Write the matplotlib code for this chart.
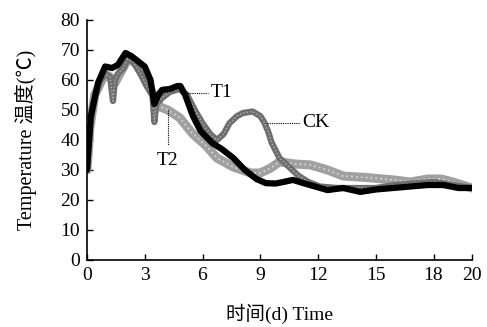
import matplotlib
matplotlib.use("Agg")
import matplotlib.pyplot as plt
import numpy as np

# Data
ck_day = [0, 0.15, 0.4, 0.7, 0.95, 1.2, 1.35, 1.45, 1.6, 1.9, 2.1, 2.4, 2.8, 3.1, 3.4, 3.5, 3.6, 3.9, 4.3, 4.8, 5.2, 5.6, 6.0, 6.4, 6.75, 7.1, 7.4, 7.8, 8.1, 8.6, 9.0, 9.2, 9.4, 9.6, 10.0, 10.5, 11.0, 11.5, 12.1, 13, 14, 15, 16, 17, 18, 19, 20]
ck_temp = [30, 45, 54, 60, 62, 61, 53, 60, 62, 64, 67, 66, 62, 58, 55, 46, 52, 54, 56, 57, 55, 50, 45.6, 42, 40, 42, 45.6, 48, 49, 49.5, 48, 46, 43, 39, 34, 31, 28, 26, 24.5, 24, 24, 24, 25, 25.5, 26, 25, 24]

t1_day = [0, 0.2, 0.57, 0.94, 1.3, 1.6, 2.0, 2.3, 2.5, 3.0, 3.3, 3.5, 3.7, 3.9, 4.3, 4.7, 4.85, 5.1, 5.5, 5.9, 6.5, 7.0, 7.6, 8.2, 8.8, 9.3, 9.8, 10.2, 10.7, 11.3, 12.5, 13.3, 14.2, 15.0, 15.9, 16.8, 17.7, 18.5, 19.3, 20]
t1_temp = [30, 48, 59, 64.5, 64, 65, 69, 68, 67, 64.5, 60, 52, 55, 56.7, 57, 58, 58, 55, 48, 43, 39, 37, 34, 30, 27, 25.6, 25.5, 26, 26.7, 25.5, 23.3, 24, 22.7, 23.5, 24, 24.5, 25, 25, 24, 24]

t2_day = [0, 0.15, 0.4, 0.7, 0.94, 1.2, 1.45, 1.7, 2.1, 2.5, 2.85, 3.1, 3.4, 3.8, 4.2, 4.8, 5.5, 6.2, 6.75, 7.6, 8.5, 9.0, 9.5, 10.0, 10.8, 11.6, 12.5, 13.3, 14.5, 15.9, 16.8, 17.7, 18.4, 19.0, 19.5, 20]
t2_temp = [30, 44, 55, 59, 62, 61, 59, 62, 66.7, 66, 62, 59, 55.6, 51, 50, 47.5, 42, 38, 34, 31, 29, 29, 30.5, 32.7, 32, 31.7, 30, 28, 27.5, 26.7, 26, 27, 27, 26, 25, 24]

xticks = [0, 3, 6, 9, 12, 15, 18, 20]
yticks = [0, 10, 20, 30, 40, 50, 60, 70, 80]

fonts = ['Liberation Serif', 'Noto Sans CJK SC', 'DejaVu Sans']
plt.rcParams['font.family'] = fonts

fig = plt.figure(figsize=(4.87, 3.27), dpi=100)
ax = fig.add_axes([87/487, 67/327, 385/487, 240/327])

ax.plot(t2_day, t2_temp, color='#a0a0a0', lw=6.5, solid_capstyle='round', solid_joinstyle='round', zorder=2)
ax.plot(t2_day, t2_temp, color='#d0d0d0', lw=1.4, ls=(0, (1, 1.5)), zorder=2.1)
ax.plot(ck_day, ck_temp, color='#6e6e6e', lw=4.5, solid_capstyle='round', solid_joinstyle='round', zorder=3)
ax.plot(ck_day, ck_temp, color='#b0b0b0', lw=1.0, ls=(0, (1, 1.5)), zorder=3.1)
ax.plot(t1_day, t1_temp, color='black', lw=4.5, solid_capstyle='round', solid_joinstyle='round', zorder=4)

# annotations with dotted leaders
ax.plot([5.0, 6.3], [55.7, 55.7], color='black', lw=0.8, ls=(0, (1, 1)), zorder=5)
ax.text(6.4, 55.7, 'T1', fontsize=14, va='center', ha='left')
ax.plot([9.35, 11.05], [45.7, 45.7], color='black', lw=0.8, ls=(0, (1, 1)), zorder=5)
ax.text(11.2, 45.7, 'CK', fontsize=14, va='center', ha='left')
ax.plot([4.2, 4.2], [50, 38.3], color='black', lw=0.8, ls=(0, (1, 1)), zorder=5)
ax.text(4.2, 33.3, 'T2', fontsize=14, va='center', ha='center')

ax.set_xlim(0, 20)
ax.set_ylim(0, 80)
ax.set_xticks(xticks)
ax.set_yticks(yticks)
ax.tick_params(direction='in', length=4, width=1, labelsize=14, pad=5)
for s in ['top', 'right']:
    ax.spines[s].set_visible(False)
for s in ['left', 'bottom']:
    ax.spines[s].set_linewidth(1.2)

ax.set_xlabel('时间(d) Time', fontsize=14, labelpad=14)
ax.set_ylabel('Temperature 温度(℃)', fontsize=14.5)
ax.yaxis.set_label_coords(-0.13, 0.5)

fig.savefig('out.png', dpi=100)
